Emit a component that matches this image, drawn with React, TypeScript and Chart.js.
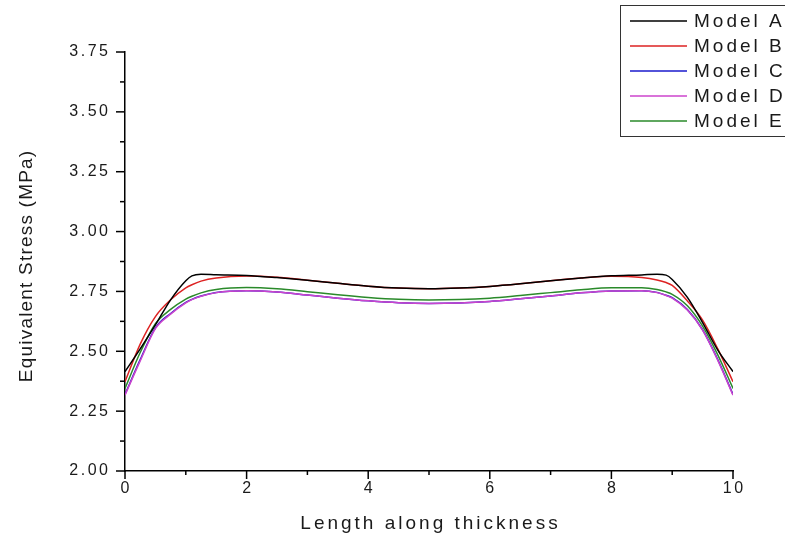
import React, { useEffect, useRef } from "react";
import { Chart, registerables } from "chart.js";

Chart.register(...registerables);

const X_VALUES = [0, 0.25, 0.5, 0.75, 1, 1.1, 1.25, 1.5, 2, 2.5, 3, 3.5, 4, 4.5, 5, 5.5, 6, 6.5, 7, 7.5, 8, 8.5, 8.75, 8.9, 9, 9.25, 9.5, 9.75, 10];

const MODEL_A = [2.415, 2.51, 2.61, 2.715, 2.795, 2.815, 2.822, 2.82, 2.817, 2.808, 2.797, 2.784, 2.772, 2.764, 2.761, 2.764, 2.771, 2.782, 2.795, 2.806, 2.815, 2.819, 2.822, 2.818, 2.8, 2.725, 2.62, 2.505, 2.415];
const MODEL_B = [2.373, 2.53, 2.645, 2.715, 2.765, 2.778, 2.793, 2.806, 2.814, 2.809, 2.797, 2.784, 2.772, 2.764, 2.761, 2.764, 2.771, 2.782, 2.795, 2.806, 2.813, 2.808, 2.798, 2.787, 2.775, 2.71, 2.63, 2.51, 2.373];
const MODEL_C = [2.32, 2.465, 2.598, 2.658, 2.704, 2.717, 2.731, 2.746, 2.753, 2.748, 2.735, 2.722, 2.711, 2.703, 2.7, 2.702, 2.708, 2.719, 2.731, 2.744, 2.752, 2.753, 2.746, 2.734, 2.724, 2.674, 2.59, 2.465, 2.32];
const MODEL_D = [2.317, 2.46, 2.595, 2.655, 2.702, 2.716, 2.73, 2.745, 2.753, 2.748, 2.735, 2.722, 2.711, 2.703, 2.7, 2.702, 2.708, 2.719, 2.731, 2.744, 2.752, 2.753, 2.745, 2.733, 2.722, 2.672, 2.588, 2.462, 2.317];
const MODEL_E = [2.345, 2.495, 2.615, 2.675, 2.718, 2.73, 2.744, 2.758, 2.766, 2.761, 2.749, 2.736, 2.725, 2.717, 2.714, 2.716, 2.722, 2.733, 2.745, 2.757, 2.765, 2.765, 2.758, 2.748, 2.738, 2.69, 2.605, 2.485, 2.345];

const SERIES_NAMES = ["Model A", "Model B", "Model C", "Model D", "Model E"];
const SERIES_VALUES = [MODEL_A, MODEL_B, MODEL_C, MODEL_D, MODEL_E];
const SERIES_COLORS = ["#000000", "#dd2222", "#1a1acc", "#cc44cc", "#2a8a2a"];
const SERIES_ORDER = [0, 1, 4, 3, 2];

const X_TICKS = [0, 2, 4, 6, 8, 10];
const Y_TICKS = [2.0, 2.25, 2.5, 2.75, 3.0, 3.25, 3.5, 3.75];
const X_TITLE = "Length along thickness";
const Y_TITLE = "Equivalent Stress (MPa)";

const FONT = '"Liberation Sans", Arial, sans-serif';
const TEXT_COLOR = "#1a1a1a";

function drawText(
  ctx: CanvasRenderingContext2D,
  s: string,
  x: number,
  y: number,
  size: number,
  ls: number,
  align: "left" | "center" | "right",
  baseline: CanvasTextBaseline,
  rot = 0
) {
  ctx.save();
  ctx.font = `${size}px ${FONT}`;
  (ctx as any).letterSpacing = `${ls}px`;
  ctx.fillStyle = TEXT_COLOR;
  ctx.translate(x, y);
  if (rot) ctx.rotate(rot);
  ctx.textAlign = "left";
  ctx.textBaseline = baseline;
  const w = ctx.measureText(s).width;
  let x0 = 0;
  if (align === "center") x0 = -(w - ls) / 2;
  else if (align === "right") x0 = -(w - ls);
  ctx.fillText(s, x0, 0);
  ctx.restore();
}

const decorPlugin = {
  id: "decor",
  afterDraw(chart: any) {
    const ctx: CanvasRenderingContext2D = chart.ctx;
    const xs = chart.scales.x;
    const ys = chart.scales.y;
    const area = chart.chartArea;
    ctx.save();
    ctx.strokeStyle = "#000";
    ctx.lineWidth = 1.5;
    // y ticks
    Y_TICKS.forEach((v, i) => {
      const py = ys.getPixelForValue(v);
      ctx.beginPath();
      ctx.moveTo(area.left - 9, py);
      ctx.lineTo(area.left, py);
      ctx.stroke();
      if (i < Y_TICKS.length - 1) {
        const my = ys.getPixelForValue((v + Y_TICKS[i + 1]) / 2);
        ctx.beginPath();
        ctx.moveTo(area.left - 5, my);
        ctx.lineTo(area.left, my);
        ctx.stroke();
      }
      drawText(ctx, v.toFixed(2), area.left - 17, py, 16, 2.5, "right", "middle");
    });
    // x ticks
    X_TICKS.forEach((v, i) => {
      const px = xs.getPixelForValue(v);
      ctx.beginPath();
      ctx.moveTo(px, area.bottom);
      ctx.lineTo(px, area.bottom + 8);
      ctx.stroke();
      if (i < X_TICKS.length - 1) {
        const mx = xs.getPixelForValue((v + X_TICKS[i + 1]) / 2);
        ctx.beginPath();
        ctx.moveTo(mx, area.bottom);
        ctx.lineTo(mx, area.bottom + 4);
        ctx.stroke();
      }
      drawText(ctx, String(v), px, area.bottom + 18, 16, 2.5, "center", "middle");
    });
    // axis titles
    drawText(ctx, X_TITLE, (area.left + area.right) / 2, area.bottom + 58, 19, 3, "center", "alphabetic");
    drawText(ctx, Y_TITLE, 32, (area.top + area.bottom) / 2 + 5, 19, 1.2, "center", "alphabetic", -Math.PI / 2);
    // legend
    ctx.strokeStyle = "#333";
    ctx.lineWidth = 1;
    ctx.strokeRect(620.5, 5.5, 200, 131);
    SERIES_NAMES.forEach((name, i) => {
      const ry = 21 + i * 25;
      ctx.strokeStyle = SERIES_COLORS[i];
      ctx.lineWidth = 1.5;
      ctx.beginPath();
      ctx.moveTo(630, ry);
      ctx.lineTo(687, ry);
      ctx.stroke();
      drawText(ctx, name, 694, ry + 1, 19, 3, "left", "middle");
    });
    ctx.restore();
  },
};

export default function App() {
  const canvasRef = useRef<HTMLCanvasElement | null>(null);

  useEffect(() => {
    if (!canvasRef.current) return;
    const chart = new Chart(canvasRef.current, {
      type: "line",
      data: {
        datasets: SERIES_NAMES.map((name, i) => ({
          label: name,
          data: X_VALUES.map((x, j) => ({ x, y: SERIES_VALUES[i][j] })),
          borderColor: SERIES_COLORS[i],
          backgroundColor: SERIES_COLORS[i],
          borderWidth: 1.5,
          pointRadius: 0,
          tension: 0.3,
          cubicInterpolationMode: "monotone" as const,
          fill: false,
          order: SERIES_ORDER[i],
        })),
      },
      options: {
        animation: false,
        responsive: true,
        maintainAspectRatio: false,
        layout: { padding: { top: 52, right: 52, left: 0, bottom: 0 } },
        plugins: {
          legend: { display: false },
          tooltip: { enabled: false },
          title: { display: false },
        },
        scales: {
          x: {
            type: "linear",
            min: 0,
            max: 10,
            grid: { display: false },
            border: { display: true, color: "#000", width: 1.5 },
            ticks: { display: false },
            afterFit: (scale: any) => {
              scale.height = 66;
            },
          },
          y: {
            type: "linear",
            min: 2,
            max: 3.75,
            grid: { display: false },
            border: { display: true, color: "#000", width: 1.5 },
            ticks: { display: false },
            afterFit: (scale: any) => {
              scale.width = 125;
            },
          },
        },
      },
      plugins: [decorPlugin],
    });
    return () => chart.destroy();
  }, []);

  return (
    <div style={{ position: "absolute", left: 0, top: 0, width: 785, height: 537, background: "#fff" }}>
      <canvas ref={canvasRef} />
    </div>
  );
}
